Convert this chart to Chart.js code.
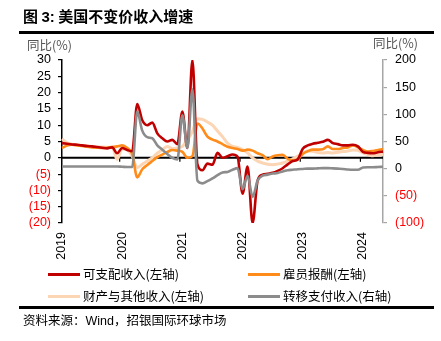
<!DOCTYPE html>
<html>
<head>
<meta charset="utf-8">
<script src="https://cdn.jsdelivr.net/npm/chart.js@4.4.0/dist/chart.umd.min.js"></script>
<style>
body { margin: 0; background: #fff; }
#wrap { position: relative; width: 441px; height: 341px; overflow: hidden; font-family: "Noto Sans CJK SC", sans-serif; color: #000; }
#c { position: absolute; left: 0; top: 0; }
.abs { position: absolute; white-space: nowrap; pointer-events: none; }
#title { left: 23px; top: 6px; font-size: 15px; line-height: 20px; font-weight: bold; }
#title .num { font-family: "Liberation Sans", Arial, sans-serif; }
.rule { left: 19px; width: 415px; height: 2.5px; background: #000; }
.axt { font-size: 12.5px; line-height: 14px; color: #555; }
.lg-line { height: 3px; width: 32px; }
.lg-txt { font-size: 12.5px; line-height: 16px; }
#src { left: 23px; top: 312px; font-size: 12.5px; line-height: 16px; }
#src .en { font-family: "Liberation Sans", Arial, sans-serif; }
</style>
</head>
<body>
<div id="wrap">
  <canvas id="c" width="441" height="341"></canvas>
  <div id="title" class="abs">图 <span class="num">3:</span> 美国不变价收入增速</div>
  <div class="abs rule" style="top:31px"></div>
  <div class="abs axt" style="left:27px;top:38px">同比(%)</div>
  <div class="abs axt" style="left:373px;top:36px">同比(%)</div>

  <div class="abs lg-line" style="left:48px;top:272.5px;background:#C00000"></div>
  <div class="abs lg-txt" style="left:83px;top:266px">可支配收入(左轴)</div>
  <div class="abs lg-line" style="left:248px;top:272.5px;background:#FF8C1A"></div>
  <div class="abs lg-txt" style="left:283px;top:266px">雇员报酬(左轴)</div>
  <div class="abs lg-line" style="left:48px;top:294.5px;background:#FCD5B4"></div>
  <div class="abs lg-txt" style="left:83px;top:288px">财产与其他收入(左轴)</div>
  <div class="abs lg-line" style="left:248px;top:294.5px;background:#8C8C8C"></div>
  <div class="abs lg-txt" style="left:283px;top:288px">转移支付收入(右轴)</div>

  <div class="abs rule" style="top:306px"></div>
  <div id="src" class="abs">资料来源：<span class="en">Wind</span>，招银国际环球市场</div>
</div>
<script>
// monthly, 2019-01 .. 2024-05
const years = ['2019', '2020', '2021', '2022', '2023', '2024']
const lastMonth2024 = 5

// 可支配收入 (left axis, %)
const disposable = [4.5, 4.3, 4.1, 4.0, 3.8, 3.6, 3.5, 3.3, 3.1, 2.9, 3.2, 1.4, 3.0, 2.4, 2.0,
    16.5, 11.5, 10.0, 10.8, 7.5, 6.0, 5.0, 5.5, 4.2, 14.2, 3.0, 30.0, -2.0, -3.8, -1.8, -2.1, 1.5, 0.0, 0.5, 1.0, 0.3,
    -11.0, -2.7, -20.0, -7.0, -5.2, -4.9, -4.6, -4.0, -3.2, -2.0, -1.0, -0.5,
    2.8, 3.8, 4.3, 4.6, 4.9, 5.5, 4.5, 4.2, 3.8, 3.8, 4.0, 3.5,
    1.8, 1.5, 1.4, 1.7, 1.9]

// 雇员报酬 (left axis, %)
const compensation = [3.0, 3.8, 4.0, 3.8, 3.6, 3.4, 3.2, 3.1, 3.0, 3.1, 3.3, 3.5, 3.8, 3.0, 1.2,
    -6.0, -3.5, -2.2, -1.0, 0.2, 1.0, 1.8, 2.4, 2.2, 1.8, 0.0, 0.5, 10.5, 9.0, 6.5, 5.6, 5.0, 4.2, 3.4, 3.0, 2.7,
    2.2, 2.5, 2.2, 1.4, 0.8, -0.4, 0.4, 0.8, 0.9, -0.3, -0.8, -0.5,
    1.2, 2.0, 2.5, 2.5, 2.6, 3.5, 2.7, 2.7, 3.0, 3.2, 3.8, 3.2,
    2.4, 1.9, 2.1, 2.4, 2.7]

// 财产与其他收入 (left axis, %)
const property = [5.8, 4.6, 4.2, 4.0, 3.8, 3.7, 3.5, 3.3, 3.3, 3.2, 3.3, -0.5, 2.8, 2.5, 0.5,
    -3.0, -2.0, -1.0, 0.0, 1.4, 2.5, 3.5, 2.8, 3.0, 3.5, 5.5, 8.0, 12.0, 11.8, 11.0, 10.0, 8.2, 6.5, 4.5, 3.5, 3.2,
    2.5, 1.5, 0.0, -1.0, -1.6, -2.0, -2.1, -1.9, -1.6, -1.0, -0.3, 0.5,
    1.3, 2.2, 2.0, 1.6, 1.5, 1.6, 1.5, 1.7, 1.9, 2.1, 2.4, 2.3,
    1.5, 1.0, 0.6, 0.8, 1.1]

// 转移支付收入 (right axis, %)
const transfer = [4, 4, 4, 4, 4, 4, 4, 4, 4, 4, 4, 4, 3.5, 3, 3,
    105, 70, 58, 56, 43, 35, 27, 20, 17, 98, 38, 146, -22, -27, -23, -18, -12, -7, -6, -2, 1,
    -38, -13, -52, -22, -13, -11, -9, -8, -5, -3, -2, -1,
    -0.5, 0, 0, 0.5, 1, 1, 0.5, 0, -0.5, -1.5, -2, -2,
    2, 2.5, 2.5, 3, 3.5]

const months = []
years.forEach(y => {
    const n = y === '2024' ? lastMonth2024 : 12
    for (let m = 1; m <= n; m++) months.push(y + '-' + String(m).padStart(2, '0'))
})

const tickFont = { family: '"Liberation Sans", Arial, sans-serif', size: 12.5 }

// black zero line on the left axis with small year ticks
const zeroLine = {
    id: 'zeroLine',
    beforeDatasetsDraw(chart) {
        const { ctx, chartArea, scales } = chart
        const y0 = scales.y.getPixelForValue(0)
        ctx.save()
        ctx.strokeStyle = '#000'
        ctx.lineWidth = 2
        ctx.beginPath()
        ctx.moveTo(chartArea.left, y0)
        ctx.lineTo(chartArea.right, y0)
        ctx.stroke()
        ctx.lineWidth = 1.2
        months.forEach((m, i) => {
            if (i > 0 && m.endsWith('-01')) {
                const x = (scales.x.getPixelForValue(i - 1) + scales.x.getPixelForValue(i)) / 2
                ctx.beginPath()
                ctx.moveTo(x, y0)
                ctx.lineTo(x, y0 + 4)
                ctx.stroke()
            }
        })
        ctx.restore()
    }
}

const line = (data, color, width, axis, order) => ({
    data: data,
    borderColor: color,
    backgroundColor: color,
    borderWidth: width,
    pointRadius: 0,
    cubicInterpolationMode: 'monotone',
    yAxisID: axis,
    order: order
})

const negLabel = v => v < 0 ? '(' + (-v) + ')' : v
const negColor = c => c.tick.value < 0 ? '#FF0000' : '#000'

new Chart(document.querySelector('#c'), {
    type: 'line',
    data: {
        labels: months,
        datasets: [
            line(disposable, '#C00000', 2.6, 'y', 1),
            line(compensation, '#FF8C1A', 2.6, 'y', 2),
            line(property, '#FCD5B4', 3, 'y', 3),
            line(transfer, '#8C8C8C', 2.6, 'y1', 0)
        ]
    },
    options: {
        responsive: false,
        devicePixelRatio: 1,
        animation: false,
        layout: { padding: { top: 60, left: 0, right: 0, bottom: 0 } },
        plugins: { legend: { display: false }, tooltip: { enabled: false } },
        scales: {
            x: {
                type: 'category',
                offset: false,
                grid: { display: false, drawTicks: false },
                border: { display: false },
                ticks: {
                    autoSkip: false,
                    maxRotation: 90,
                    minRotation: 90,
                    padding: 9,
                    color: '#000',
                    font: tickFont,
                    callback: function (v) {
                        const l = this.getLabelForValue(v)
                        return l.endsWith('-01') ? l.slice(0, 4) : ''
                    }
                },
                afterFit: s => { s.height = 118 }
            },
            y: {
                position: 'left',
                min: -20,
                max: 30,
                ticks: {
                    stepSize: 5,
                    autoSkip: false,
                    padding: 7,
                    font: tickFont,
                    color: negColor,
                    callback: negLabel
                },
                grid: { drawOnChartArea: false, tickLength: 4, color: '#000', lineWidth: 1.2 },
                border: { color: '#000', width: 1.5 },
                afterFit: s => { s.width = 62 }
            },
            y1: {
                position: 'right',
                min: -100,
                max: 200,
                ticks: {
                    stepSize: 50,
                    autoSkip: false,
                    padding: 8,
                    font: tickFont,
                    color: negColor,
                    callback: negLabel
                },
                grid: { drawOnChartArea: false, tickLength: 4, color: '#A6A6A6', lineWidth: 1.2 },
                border: { color: '#A6A6A6', width: 1.5 },
                afterFit: s => { s.width = 58 }
            }
        }
    },
    plugins: [zeroLine]
})
</script>
</body>
</html>
